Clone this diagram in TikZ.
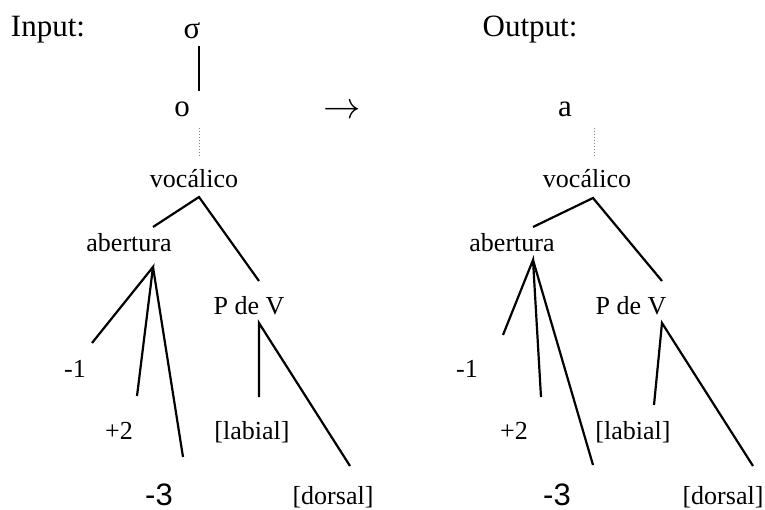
\documentclass[tikz,border=0pt]{standalone}
\usepackage{fontspec}
\setmainfont{Liberation Serif}
\newfontfamily\arialf{Liberation Sans}
\begin{document}
\begin{tikzpicture}[x=1pt,y=-1pt,
  big/.style={inner sep=0pt,anchor=base,font=\fontsize{31}{31}\selectfont},
  lbl/.style={inner sep=0pt,anchor=base,font=\fontsize{26}{26}\selectfont},
  sans/.style={inner sep=0pt,anchor=base,text depth=0pt,font=\fontsize{31}{31}\selectfont\arialf},
  branch/.style={line width=2.2pt},
  dots/.style={line width=0.8pt,gray,dash pattern=on 1pt off 2pt}]
\useasboundingbox (0,0) rectangle (765,510);
% headings
\node[big] (inp) at (48,37) {Input:};
\node[big] (outp) at (530,37) {Output:};
\node[inner sep=0pt,anchor=center,font=\fontsize{30}{30}\selectfont] (arr) at (342,112) {\scalebox{1.5}{$\rightarrow$}};
% left tree labels
\node[big] (sig) at (192,39) {σ};
\node[big] (o) at (182,117) {o};
\node[lbl] (voc) at (194,188) {vocálico};
\node[lbl] (ab) at (129,252) {abertura};
\node[lbl] (pv) at (249,315) {P de V};
\node[lbl] (m1) at (75,377) {-1};
\node[lbl] (p2) at (119,439) {+2};
\node[lbl] (lab) at (252,439) {[labial]};
\node[sans] (m3) at (159,505) {-3};
\node[lbl] (dor) at (333,504) {[dorsal]};
% right tree labels
\node[big] (a) at (565,117) {a};
\node[lbl] (vocR) at (587,188) {vocálico};
\node[lbl] (abR) at (512,252) {abertura};
\node[lbl] (pvR) at (631,315) {P de V};
\node[lbl] (m1R) at (467,377) {-1};
\node[lbl] (p2R) at (514,439) {+2};
\node[lbl] (labR) at (633,439) {[labial]};
\node[sans] (m3R) at (557,505) {-3};
\node[lbl] (dorR) at (723,504) {[dorsal]};
% left tree line ends
\coordinate (sigB) at (199,46);
\coordinate (oT) at (199,91);
\coordinate (oB) at (199,128);
\coordinate (vT) at (199,157);
\coordinate (vA) at (199,197);
\coordinate (abT) at (153,227);
\coordinate (pvT) at (259,281);
\coordinate (abA) at (153,267);
\coordinate (m1E) at (92,343);
\coordinate (p2E) at (137,396);
\coordinate (m3E) at (183,457);
\coordinate (pvA) at (259,323);
\coordinate (labE) at (259,397);
\coordinate (dorE) at (350,466);
% right tree line ends
\coordinate (oBR) at (594,128);
\coordinate (vTR) at (594,157);
\coordinate (vAR) at (593,198);
\coordinate (abTR) at (533,227);
\coordinate (pvTR) at (662,281);
\coordinate (abAR) at (533,260);
\coordinate (m1ER) at (503,335);
\coordinate (p2ER) at (541,397);
\coordinate (m3ER) at (593,465);
\coordinate (pvAR) at (662,323);
\coordinate (labER) at (654,405);
\coordinate (dorER) at (753,466);
% left connectors
\draw[branch] (sigB) -- (oT);
\draw[dots] (oB) -- (vT);
\draw[branch] (abT) -- (vA) -- (pvT);
\draw[branch] (m1E) -- (abA) -- (p2E);
\draw[branch] (abA) -- (m3E);
\draw[branch] (labE) -- (pvA) -- (dorE);
% right connectors
\draw[dots] (oBR) -- (vTR);
\draw[branch] (abTR) -- (vAR) -- (pvTR);
\draw[branch] (m1ER) -- (abAR) -- (p2ER);
\draw[branch] (abAR) -- (m3ER);
\draw[branch] (labER) -- (pvAR) -- (dorER);
\end{tikzpicture}
\end{document}
